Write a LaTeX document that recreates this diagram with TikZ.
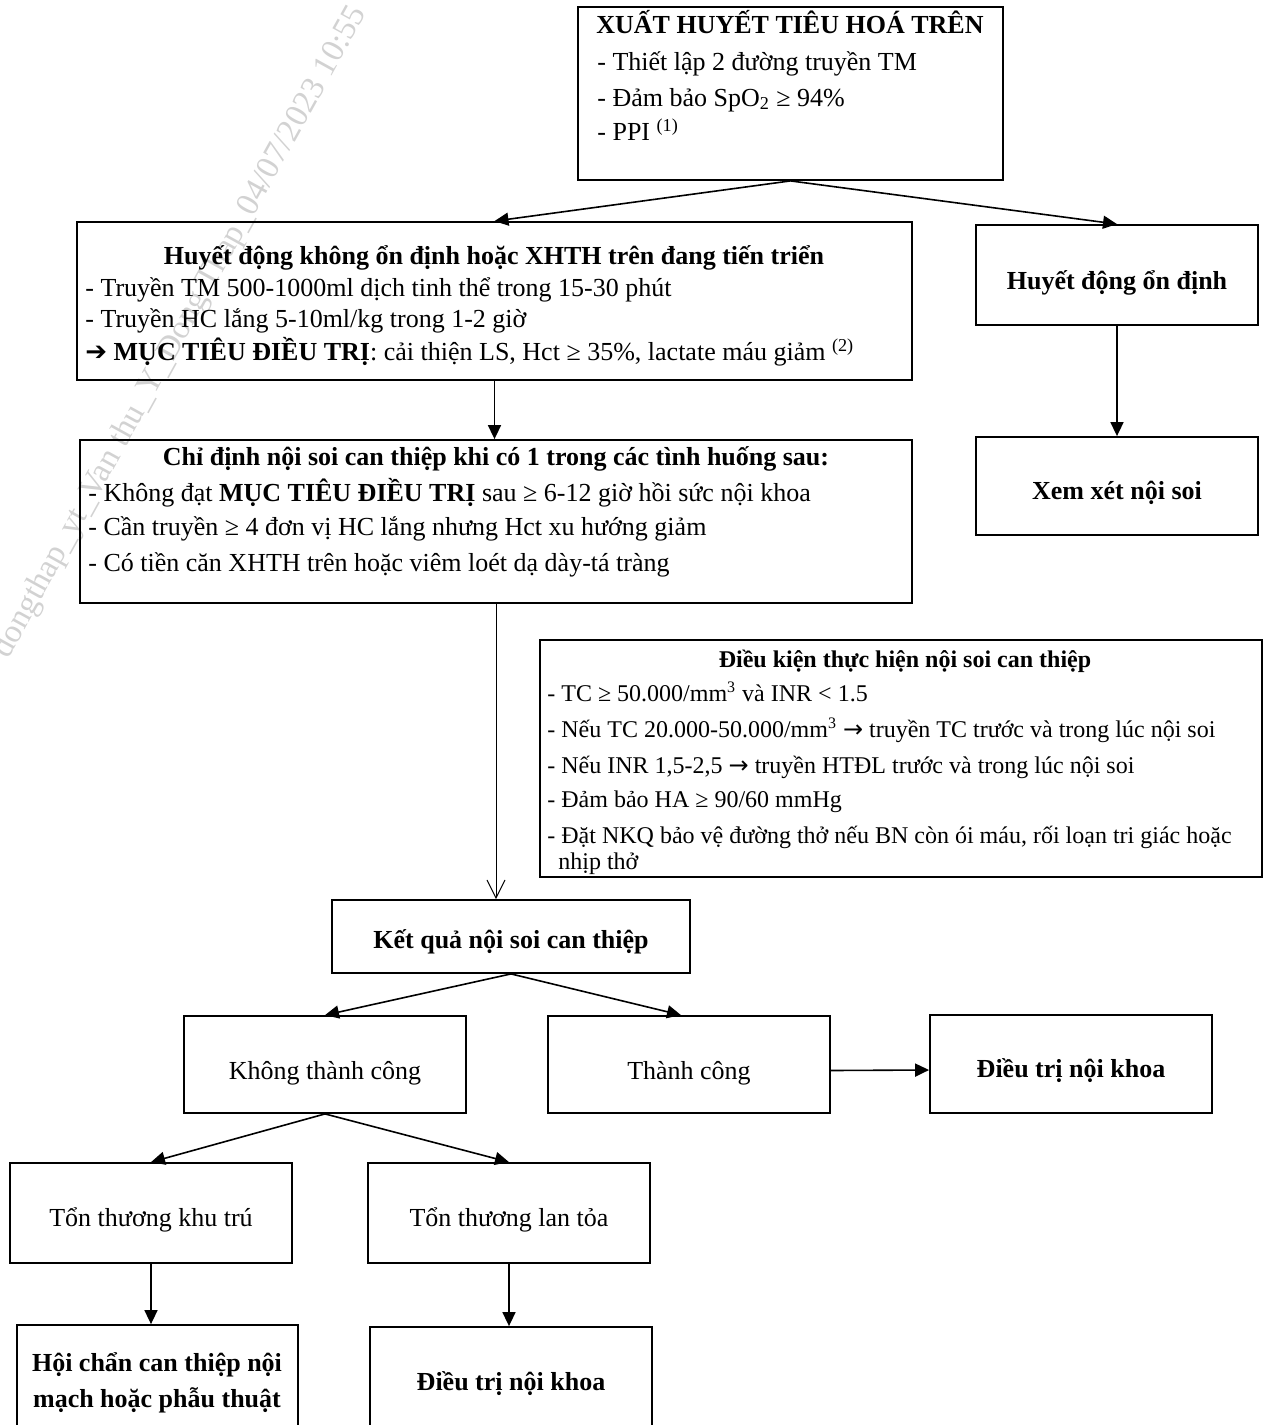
\documentclass[tikz,border=0pt]{standalone}
\usepackage{fontspec}
\setmainfont{Liberation Serif}
\newfontfamily\symf{DejaVu Sans}
\usetikzlibrary{arrows.meta,fit}
\begin{document}
\begin{tikzpicture}[x=0.5pt,y=-0.5pt,
  box/.style={draw, line width=0.9pt, inner sep=0pt},
  lbl/.style={anchor=center, inner sep=0pt, align=center, font=\fontsize{13}{18}\selectfont},
  blbl/.style={lbl, font=\fontsize{13}{18}\selectfont\bfseries},
  txt/.style={anchor=base west, inner sep=0pt, font=\fontsize{13}{16}\selectfont},
  ttl/.style={anchor=base, inner sep=0pt, font=\fontsize{13}{16}\selectfont\bfseries},
  stxt/.style={anchor=base west, inner sep=0pt, font=\fontsize{12}{14}\selectfont},
  sttl/.style={anchor=base, inner sep=0pt, font=\fontsize{12}{14}\selectfont\bfseries},
  arr/.style={line width=0.8pt, -{Triangle[length=7pt,width=6.5pt]}},
  openarr/.style={line width=0.5pt, -{Straight Barb[length=9pt,width=9pt,line width=0.5pt]}},
  wmark/.style={anchor=base west, inner sep=0pt, text=gray!35, font=\fontsize{16.5}{16.5}\selectfont}
]
\useasboundingbox (0,0) rectangle (1277,1425);

% watermark
\node[wmark, rotate=61] (wm) at (8,660) {dongthap\_yt\_Van thu\_Y\_Dong Thap\_04/07/2023 10:55};

% top box
\node[box, fit={(578,7) (1003,180)}] (top) {};
\node[ttl] (topt) at (790,33) {XUẤT HUYẾT TIÊU HOÁ TRÊN};
\node[txt] (top1) at (597,70) {- Thiết lập 2 đường truyền TM};
\node[txt] (top2) at (597,106) {- Đảm bảo SpO\textsubscript{2} ≥ 94\%};
\node[txt] (top3) at (597,140) {- PPI \textsuperscript{(1)}};

% unstable box
\node[box, fit={(77,222) (912,380)}] (hk) {};
\node[ttl] (hkt) at (494,264) {Huyết động không ổn định hoặc XHTH trên đang tiến triển};
\node[txt] (hk1) at (85,296) {- Truyền TM 500-1000ml dịch tinh thể trong 15-30 phút};
\node[txt] (hk2) at (85,327) {- Truyền HC lắng 5-10ml/kg trong 1-2 giờ};
\node[txt] (hk3) at (85,360) {{\symf\bfseries ➔} \textbf{MỤC TIÊU ĐIỀU TRỊ}: cải thiện LS, Hct ≥ 35\%, lactate máu giảm \textsuperscript{(2)}};

% indication box
\node[box, fit={(80,440) (912,603)}] (cd) {};
\node[ttl] (cdt) at (496,465) {Chỉ định nội soi can thiệp khi có 1 trong các tình huống sau:};
\node[txt] (cd1) at (88,501) {- Không đạt \textbf{MỤC TIÊU ĐIỀU TRỊ} sau ≥ 6-12 giờ hồi sức nội khoa};
\node[txt] (cd2) at (88,535) {- Cần truyền ≥ 4 đơn vị HC lắng nhưng Hct xu hướng giảm};
\node[txt] (cd3) at (88,571) {- Có tiền căn XHTH trên hoặc viêm loét dạ dày-tá tràng};

% stable branch
\node[box, fit={(976,225) (1258,325)}] (hod) {};
\node[blbl] (hodt) at (1117,283) {Huyết động ổn định};
\node[box, fit={(976,437) (1258,535)}] (xx) {};
\node[blbl] (xxt) at (1117,493) {Xem xét nội soi};

% conditions box
\node[box, fit={(540,640) (1262,877)}] (dk) {};
\node[sttl] (dkt) at (905,667) {Điều kiện thực hiện nội soi can thiệp};
\node[stxt] (dk1) at (547,701) {- TC ≥ 50.000/mm\textsuperscript{3} và INR < 1.5};
\node[stxt] (dk2) at (547,737) {- Nếu TC 20.000-50.000/mm\textsuperscript{3} {\symf\fontsize{12}{14}\selectfont →} truyền TC trước và trong lúc nội soi};
\node[stxt] (dk3) at (547,773) {- Nếu INR 1,5-2,5 {\symf\fontsize{12}{14}\selectfont →} truyền HTĐL trước và trong lúc nội soi};
\node[stxt] (dk4) at (547,807) {- Đảm bảo HA ≥ 90/60 mmHg};
\node[stxt] (dk5) at (547,843) {- Đặt NKQ bảo vệ đường thở nếu BN còn ói máu, rối loạn tri giác hoặc};
\node[stxt] (dk6) at (558,869) {nhịp thở};

% results
\node[box, fit={(332,900) (690,973)}] (kq) {};
\node[blbl] (kqt) at (511,942) {Kết quả nội soi can thiệp};
\node[box, fit={(184,1016) (466,1113)}] (kt) {};
\node[lbl] (ktt) at (325,1073) {Không thành công};
\node[box, fit={(548,1016) (830,1113)}] (tc) {};
\node[lbl] (tct) at (689,1073) {Thành công};
\node[box, fit={(930,1015) (1212,1113)}] (dt) {};
\node[blbl] (dtt) at (1071,1071) {Điều trị nội khoa};
\node[box, fit={(10,1163) (292,1263)}] (kht) {};
\node[lbl] (khtt) at (151,1220) {Tổn thương khu trú};
\node[box, fit={(368,1163) (650,1263)}] (lt) {};
\node[lbl] (ltt) at (509,1220) {Tổn thương lan tỏa};
\node[box, fit={(17,1325) (298,1440)}] (hc) {};
\node[blbl] (hct) at (157,1383) {Hội chẩn can thiệp nội\\mạch hoặc phẫu thuật};
\node[box, fit={(370,1327) (652,1440)}] (dt2) {};
\node[blbl] (dt2t) at (511,1384) {Điều trị nội khoa};

% connectors
\draw[arr] (top.south) -- (hk.north);
\draw[arr] (top.south) -- (hod.north);
\draw[arr] (hk.south) -- (hk.south |- cd.north);
\draw[arr] (hod.south) -- (xx.north);
\draw[openarr] (cd.south) -- (cd.south |- kq.north);
\draw[arr] (kq.south) -- (kt.north);
\draw[arr] (kq.south) -- ([xshift=-4pt]tc.north);
\draw[arr] ([yshift=-3pt]tc.east) -- ([yshift=-3pt]dt.west);
\draw[arr] (kt.south) -- (kht.north);
\draw[arr] (kt.south) -- (lt.north);
\draw[arr] (kht.south) -- (kht.south |- hc.north);
\draw[arr] (lt.south) -- (lt.south |- dt2.north);
\end{tikzpicture}
\end{document}
